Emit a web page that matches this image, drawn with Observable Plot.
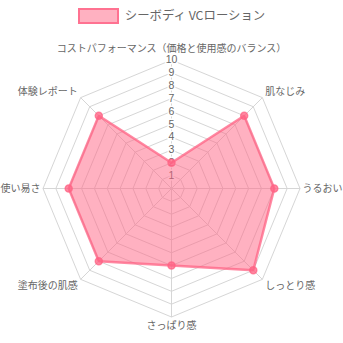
<!DOCTYPE html>
<html><head><meta charset="utf-8">
<script src="https://cdn.jsdelivr.net/npm/d3@7"></script>
<script src="https://cdn.jsdelivr.net/npm/@observablehq/plot@0.6"></script>
<style>
body{margin:0;background:#fff;font-family:"Noto Sans CJK JP","Noto Sans",sans-serif;}
#legend{height:30px;display:flex;align-items:center;justify-content:center;padding-left:0;}
#legend .box{width:37px;height:12px;background:rgba(255,99,132,0.5);border:2px solid rgba(255,99,132,0.8);margin-right:6px;margin-top:2px;}
#legend .lbl{font-size:12.4px;color:#666;}
</style></head>
<body>
<div id="legend"><span class="box"></span><span class="lbl">シーボディ VCローション</span></div>
<div id="chart"></div>
<script>
const categories = ["コストパフォーマンス（価格と使用感のバランス）","肌なじみ","うるおい","しっとり感","さっぱり感","塗布後の肌感","使い易さ","体験レポート"];
const values = [2, 8, 8, 9, 6, 8, 8, 8];
const ticks = [1,2,3,4,5,6,7,8,9,10];
const seriesName = "シーボディ VCローション";
const maxVal = 10;

const W = 343, H = 313, cx = 171, cy = 158, R = 128.5;
const unit = R/maxVal;
const n = categories.length;
const ang = i => -Math.PI/2 + i*2*Math.PI/n;
const px = (v,i) => v*Math.cos(ang(i));
const py = (v,i) => -v*Math.sin(ang(i));

const rings = [];
ticks.forEach(t => { for (let i=0;i<=n;i++) rings.push({t, x:px(t,i%n), y:py(t,i%n)}); });
const spokes = categories.map((c,i)=>({ax:0,ay:0,bx:px(maxVal,i),by:py(maxVal,i)}));
const area = values.map((v,i)=>({x:px(v,i),y:py(v,i),name:seriesName}));
const areaClosed = [...area, area[0]];
const labels = categories.map((c,i)=>{
  const cs = Math.cos(ang(i)), sn = -Math.sin(ang(i));
  const textAnchor = Math.abs(cs) < 0.01 ? "middle" : (cs>0 ? "start" : "end");
  const lineAnchor = Math.abs(sn) < 0.01 ? "middle" : (sn>0 ? "bottom" : "top");
  const padPx = Math.abs(sn) < 0.01 ? 2.5 : (Math.abs(cs) < 0.01 ? (sn > 0 ? 8 : 5) : 4);
  const r = maxVal + padPx/unit;
  return {c, x: px(r,i), y: py(r,i), textAnchor, lineAnchor};
});
const tickData = ticks.map(t=>({t, x:0, y:t}));

const labelMarks = labels.map(d => Plot.text([d], {x:"x", y:"y", text:"c", fill:"#666", fontSize:10, textAnchor:d.textAnchor, lineAnchor:d.lineAnchor}));

const chart = Plot.plot({
  width: W, height: H, margin: 0,
  x: {domain:[-cx/unit,(W-cx)/unit], range:[0,W], axis:null},
  y: {domain:[-(H-cy)/unit, cy/unit], range:[H,0], axis:null},
  style:{fontFamily:'"Noto Sans CJK JP","Noto Sans",sans-serif', background:"#fff"},
  marks: [
    Plot.line(rings, {x:"x", y:"y", z:"t", stroke:"#d6d6d6", strokeWidth:1, curve:"linear"}),
    Plot.link(spokes, {x1:"ax", y1:"ay", x2:"bx", y2:"by", stroke:"#d6d6d6", strokeWidth:1}),
    Plot.text(tickData, {x:"x", y:"y", text:"t", fill:"#666", fontSize:10.5, fontFamily:"Liberation Sans, Arial, sans-serif", stroke:"white", strokeWidth:3, paintOrder:"stroke"}),
    Plot.line(areaClosed, {x:"x", y:"y", fill:"#ff6384", fillOpacity:0.5, stroke:"#ff6384", strokeOpacity:0.75, strokeWidth:2.5}),
    Plot.dot(area, {x:"x", y:"y", r:3.5, fill:"#ff6384", fillOpacity:0.75, stroke:"#ff6384", strokeOpacity:0.75}),
    ...labelMarks
  ]
});
document.getElementById("chart").appendChild(chart);
</script>
</body></html>
